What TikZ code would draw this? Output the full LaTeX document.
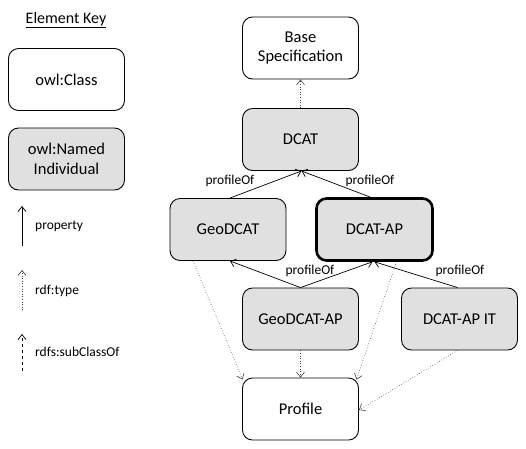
\documentclass[tikz,border=0pt]{standalone}
\usepackage{fontspec}
\setmainfont{Carlito}
\usetikzlibrary{arrows.meta}
\begin{document}
\begin{tikzpicture}[x=1pt,y=-1pt,
  box/.style={draw=black,line width=0.9pt,rounded corners=10pt,minimum width=116pt,minimum height=62pt,align=center,font=\fontsize{16.5}{19.5}\selectfont,inner sep=2pt},
  indiv/.style={box,fill=black!12},
  lbl/.style={font=\fontsize{13.5}{16}\selectfont,inner sep=1pt},
  prop/.style={draw=black,line width=0.7pt,-{Straight Barb[length=5pt,width=8pt]}},
  typ/.style={draw=black!75,line width=0.6pt,dotted,-{Straight Barb[length=5pt,width=8pt]}},
  sub/.style={draw=black,line width=0.7pt,dashed,-{Straight Barb[length=5pt,width=8pt]}}
]
\useasboundingbox (0,0) rectangle (526,448);
% legend
\node[font=\fontsize{16}{19}\selectfont] (key) at (66,20) {\underline{Element Key}};
\node[box] (kclass) at (66.5,79.5) {owl:Class};
\node[indiv] (kind) at (66.5,159) {owl:Named\\Individual};
\coordinate (p1) at (22,246); \coordinate (p2) at (22,206);
\draw[prop] (p1) -- (p2);
\node[lbl,anchor=west] (lp) at (34,226) {property};
\coordinate (t1) at (22,310); \coordinate (t2) at (22,270);
\draw[typ] (t1) -- (t2);
\node[lbl,anchor=west] (lt) at (34,291) {rdf:type};
\coordinate (s1) at (22,371); \coordinate (s2) at (22,334);
\draw[sub] (s1) -- (s2);
\node[lbl,anchor=west] (ls) at (34,352) {rdfs:subClassOf};
% nodes
\node[box] (base) at (300.5,48) {Base\\Specification};
\node[indiv] (dcat) at (300.5,139.5) {DCAT};
\node[indiv] (geodcat) at (228,229.5) {GeoDCAT};
\node[indiv,line width=2.6pt] (dcatap) at (374.5,229.5) {DCAT-AP};
\node[indiv] (geodcatap) at (300.5,319) {GeoDCAT-AP};
\node[indiv] (dcatapit) at (459.5,319) {DCAT-AP IT};
\node[box] (profile) at (300.5,409) {Profile};
% edges
\draw[typ] (dcat.north) -- (base.south);
\draw[prop] ([xshift=2pt]geodcat.north) -- ([xshift=1pt]dcat.south);
\draw[prop] ([xshift=-4pt]dcatap.north) -- ([xshift=1pt]dcat.south);
\draw[prop] (geodcatap.north) -- ([xshift=2pt]geodcat.south);
\draw[prop] (geodcatap.north) -- ([xshift=-2pt]dcatap.south);
\draw[prop] ([xshift=-2pt]dcatapit.north) -- ([xshift=0pt]dcatap.south);
\node[lbl] (l1) at (230,181) {profileOf};
\node[lbl] (l2) at (370,181) {profileOf};
\node[lbl] (l3) at (310,271) {profileOf};
\node[lbl] (l4) at (460,271) {profileOf};
\draw[typ] ([xshift=-35pt]geodcat.south) -- ([xshift=-58pt,yshift=-2pt]profile.north);
\draw[typ] ([xshift=22pt]dcatap.south) -- ([xshift=56pt,yshift=-2pt]profile.north);
\draw[typ] (geodcatap.south) -- (profile.north);
\draw[typ] ([xshift=-2pt]dcatapit.south) -- ([yshift=-1pt]profile.east);
\end{tikzpicture}
\end{document}
